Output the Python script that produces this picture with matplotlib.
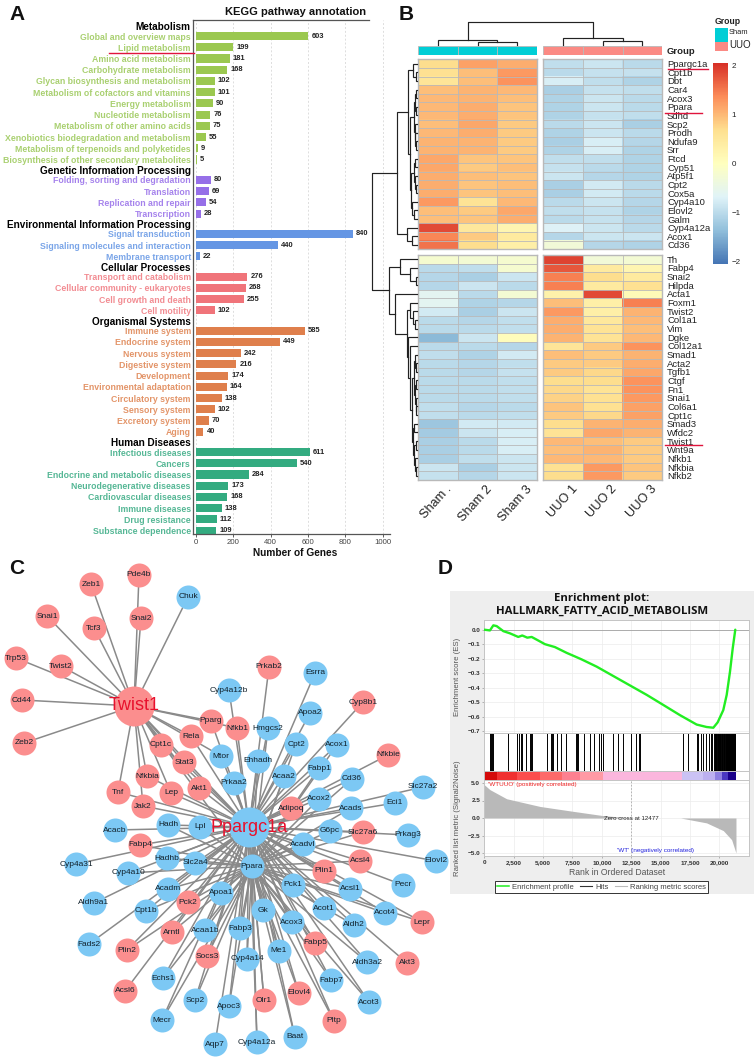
import numpy as np
from matplotlib import pyplot as plt
from matplotlib.colors import LinearSegmentedColormap, Normalize
from matplotlib.lines import Line2D

W, H = 755, 1060
plt.rcParams['font.family'] = ['Liberation Sans', 'DejaVu Sans']

# ---- panel A data
kegg_groups = ['Metabolism', 'Genetic Information Processing', 'Environmental Information Processing',
               'Cellular Processes', 'Organismal Systems', 'Human Diseases']
kegg_terms = [
    ['Global and overview maps', 'Lipid metabolism', 'Amino acid metabolism', 'Carbohydrate metabolism',
     'Glycan biosynthesis and metabolism', 'Metabolism of cofactors and vitamins', 'Energy metabolism',
     'Nucleotide metabolism', 'Metabolism of other amino acids', 'Xenobiotics biodegradation and metabolism',
     'Metabolism of terpenoids and polyketides', 'Biosynthesis of other secondary metabolites'],
    ['Folding, sorting and degradation', 'Translation', 'Replication and repair', 'Transcription'],
    ['Signal transduction', 'Signaling molecules and interaction', 'Membrane transport'],
    ['Transport and catabolism', 'Cellular community - eukaryotes', 'Cell growth and death', 'Cell motility'],
    ['Immune system', 'Endocrine system', 'Nervous system', 'Digestive system', 'Development',
     'Environmental adaptation', 'Circulatory system', 'Sensory system', 'Excretory system', 'Aging'],
    ['Infectious diseases', 'Cancers', 'Endocrine and metabolic diseases', 'Neurodegenerative diseases',
     'Cardiovascular diseases', 'Immune diseases', 'Drug resistance', 'Substance dependence'],
]
kegg_counts = [
    [603, 199, 181, 168, 102, 101, 90, 76, 75, 55, 9, 5],
    [80, 69, 54, 28],
    [840, 440, 22],
    [276, 268, 255, 102],
    [585, 449, 242, 216, 174, 164, 138, 102, 70, 40],
    [611, 540, 284, 173, 168, 138, 112, 109],
]
kegg_bar_colors = ['#9bc850', '#966fe8', '#6596e4', '#f0747a', '#df7f4c', '#33ab80']
kegg_text_colors = ['#a9d070', '#a582ec', '#7aa5e8', '#f28c92', '#e39468', '#55b795']
kegg_ticks = [0, 200, 400, 600, 800, 1000]

# ---- panel B data
samples = ['Sham .', 'Sham 2', 'Sham 3', 'UUO 1', 'UUO 2', 'UUO 3']
genes_top = ['Ppargc1a', 'Cpt1b', 'Dbt', 'Car4', 'Acox3', 'Ppara', 'Sdhd', 'Scp2', 'Prodh', 'Ndufa9', 'Srr',
             'Ftcd', 'Cyp51', 'Atp5f1', 'Cpt2', 'Cox5a', 'Cyp4a10', 'Elovl2', 'Galm', 'Cyp4a12a', 'Acox1', 'Cd36']
z_top = np.array([
    [.7, 1.2, 1.1, -.95, -.85, -1.0], [.65, .95, 1.25, -1.0, -.9, -.9], [.55, .95, 1.3, -.75, -.95, -1.1],
    [.95, 1.05, 1.0, -1.15, -.9, -.95], [1.0, 1.05, .95, -1.1, -.85, -1.0], [1.0, 1.1, .9, -1.1, -.85, -1.0],
    [1.0, 1.1, .9, -1.1, -.9, -.95], [.95, 1.15, .85, -1.0, -.85, -1.15], [1.0, 1.1, .85, -1.1, -.85, -1.0],
    [1.05, 1.05, .85, -1.15, -.75, -1.05], [1.05, 1.05, .85, -1.1, -.75, -1.1], [1.15, .9, .9, -.95, -.95, -1.1],
    [1.15, .85, .95, -.9, -1.0, -1.1], [1.1, .95, .9, -.85, -1.05, -1.1], [1.1, .9, .95, -1.15, -.8, -1.0],
    [1.1, .9, .95, -1.15, -.8, -1.0], [1.25, .6, 1.0, -1.0, -.85, -1.05], [.95, .85, 1.15, -.95, -.9, -1.1],
    [.95, .9, 1.1, -1.0, -.9, -1.05], [1.85, .5, .2, -.7, -.85, -1.0], [1.4, .85, .45, -1.05, -.85, -.85],
    [1.55, .7, .35, -.3, -1.05, -1.1]])
genes_bot = ['Th', 'Fabp4', 'Snai2', 'Hilpda', 'Acta1', 'Foxm1', 'Twist2', 'Col1a1', 'Vim', 'Dgke', 'Col12a1',
             'Smad1', 'Acta2', 'Tgfb1', 'Ctgf', 'Fn1', 'Snai1', 'Col6a1', 'Cpt1c', 'Smad3', 'Wfdc2', 'Twist1',
             'Wnt9a', 'Nfkb1', 'Nfkbia', 'Nfkb2']
z_bot = np.array([
    [-.2, -.25, -.2, 1.9, -.3, -.25], [-1.0, -.95, -.2, 1.75, .45, .2], [-1.05, -1.15, -.85, 1.45, .7, .45],
    [-1.05, -.85, -1.0, 1.45, .45, .65], [-.6, -1.0, -.25, .3, 1.85, .1], [-.6, -1.1, -1.05, .95, .35, 1.45],
    [-.8, -1.15, -.85, 1.25, .35, 1.05], [-1.0, -1.05, -.95, 1.1, .5, 1.0], [-1.0, -1.0, -.95, 1.1, .6, .95],
    [-1.4, -.85, .05, 1.05, .6, 1.0], [-1.0, -1.0, -1.05, .55, .85, 1.3], [-.95, -1.1, -.8, .95, .85, 1.05],
    [-1.0, -1.05, -.95, .85, .85, 1.1], [-1.0, -1.05, -.9, .85, .75, 1.15], [-1.0, -1.0, -.95, .7, .7, 1.3],
    [-1.0, -1.0, -.95, .75, .6, 1.3], [-1.0, -1.0, -.95, .8, .65, 1.25], [-.95, -1.05, -1.0, .9, .65, 1.2],
    [-.95, -1.0, -.95, .85, .75, 1.2], [-1.25, -.8, -.8, .7, 1.05, 1.1], [-1.2, -.85, -.75, .6, 1.15, 1.05],
    [-1.15, -1.0, -.75, 1.0, .95, .85], [-1.15, -1.0, -.75, .95, 1.05, .85], [-1.15, -.95, -.85, 1.0, 1.0, .85],
    [-.85, -1.15, -.85, .65, 1.25, .9], [-.9, -1.05, -.85, .7, 1.25, .85]])
heat_colors = ['#4575b4', '#91bfdb', '#e0f3f8', '#ffffbf', '#fee090', '#fc8d59', '#d73027']
group_colors = ['#00ced6', '#fb8a84']

# dendrograms: (merge height, left, right), an int is a leaf
tree_rows_top = (20, (8.7, (4, 0, (1.5, 1, 2)),
                      (7.5, (3, (2, (1.5, 3, 4), (1.5, 5, 6)), (2.5, 7, (2, 8, (1.5, 9, 10)))),
                       (6, (3, (2, 11, 12), (2, 13, (1.5, 14, 15))), (5, 16, (3.5, 17, 18))))),
                 (9.7, 19, (5.3, 20, 21)))
tree_rows_bot = (28, (17, 0, (7, 1, (1.3, 2, 3))),
                 (22, 4, (9.7, (7.5, 5, (4.5, 6, (2.5, 7, 8))),
                          (9, 9, (7, 10, (5, (3, (2, 11, (1.5, 12, 13)), (2, (1.5, 14, 15), (1.5, 16, (1, 17, 18)))),
                                          (4, (3, 19, 20), (3, (1.5, 21, 22), (2, 23, (1.5, 24, 25))))))))))
tree_cols = (22.5, (4.8, 0, (2.2, 1, 2)), (6.2, 3, (3.8, 4, 5)))

# ---- panel C data, nodes placed by hand the way the layout has them
node_names = ['Pde4b', 'Zeb1', 'Chuk', 'Snai1', 'Snai2', 'Tcf3', 'Trp53', 'Twist2', 'Cd44', 'Zeb2', 'Pparg', 'Rela',
              'Cpt1c', 'Stat3', 'Nfkbia', 'Tnf', 'Lep', 'Akt1', 'Jak2', 'Mtor', 'Prkab2', 'Esrra', 'Cyp4a12b', 'Cyp8b1',
              'Apoa2', 'Nfkb1', 'Hmgcs2', 'Cpt2', 'Acox1', 'Nfkbie', 'Ehhadh', 'Fabp1', 'Acaa2', 'Cd36', 'Slc27a2',
              'Prkaa2', 'Acox2', 'Eci1', 'Acads', 'Adipoq', 'Hadh', 'Lpl', 'Acacb', 'G6pc', 'Slc27a6', 'Prkag3', 'Acadvl',
              'Fabp4', 'Hadhb', 'Acsl4', 'Elovl2', 'Cyp4a31', 'Slc2a4', 'Plin1', 'Cyp4a10', 'Pecr', 'Pck1', 'Acadm',
              'Acsl1', 'Apoa1', 'Pck2', 'Aldh9a1', 'Acot1', 'Gk', 'Cpt1b', 'Acot4', 'Lepr', 'Acox3', 'Aldh2', 'Fabp3',
              'Acaa1b', 'Arntl', 'Fabp5', 'Fads2', 'Plin2', 'Me1', 'Socs3', 'Cyp4a14', 'Aldh3a2', 'Akt3', 'Echs1',
              'Fabp7', 'Acsl6', 'Elovl4', 'Scp2', 'Olr1', 'Acot3', 'Apoc3', 'Pltp', 'Mecr', 'Baat', 'Aqp7', 'Cyp4a12a',
              'Ppara', 'Twist1', 'Ppargc1a']
node_x = [139, 91, 188, 47, 141, 94, 16, 61, 22, 24, 211, 191, 161, 184, 147, 118, 171, 199, 143, 221, 269, 315, 229, 363,
          310, 237, 268, 296, 337, 388, 258, 319, 284, 352, 423, 234, 319, 395, 351, 291, 168, 200, 115, 330, 363, 408,
          303, 140, 167, 360, 436, 76, 195, 324, 128, 403, 293, 168, 350, 221, 188, 94, 324, 263, 146, 385, 422, 292,
          354, 240, 205, 172, 315, 89, 127, 279, 207, 247, 367, 407, 163, 331, 125, 299, 195, 264, 369, 229, 334, 162,
          295, 215, 257, 252, 134, 249]
node_y = [575, 584, 597, 616, 618, 628, 658, 666, 700, 743, 721, 736, 745, 762, 776, 792, 793, 788, 806, 756, 667, 673, 690,
          702, 713, 728, 728, 744, 745, 755, 761, 768, 776, 779, 787, 783, 799, 803, 808, 808, 825, 827, 830, 831, 832,
          835, 844, 845, 858, 861, 861, 864, 863, 871, 873, 885, 885, 889, 889, 893, 902, 903, 908, 910, 911, 913, 922,
          922, 925, 928, 930, 932, 943, 944, 950, 951, 956, 959, 962, 963, 978, 980, 991, 993, 1000, 1000, 1002, 1006,
          1021, 1020, 1037, 1044, 1042, 866, 706, 827]
red_nodes = ['Pde4b', 'Zeb1', 'Snai1', 'Snai2', 'Tcf3', 'Trp53', 'Twist2', 'Cd44', 'Zeb2', 'Pparg', 'Rela', 'Cpt1c', 'Stat3',
             'Nfkbia', 'Tnf', 'Lep', 'Akt1', 'Jak2', 'Prkab2', 'Cyp8b1', 'Nfkb1', 'Nfkbie', 'Adipoq', 'Slc27a6', 'Fabp4',
             'Acsl4', 'Plin1', 'Pck2', 'Lepr', 'Arntl', 'Fabp5', 'Plin2', 'Socs3', 'Akt3', 'Acsl6', 'Elovl4', 'Olr1', 'Pltp',
             'Twist1']
hub_nodes = ['Twist1', 'Ppargc1a']
twist_links = ['Zeb1', 'Pde4b', 'Chuk', 'Snai1', 'Snai2', 'Tcf3', 'Trp53', 'Twist2', 'Cd44', 'Zeb2', 'Tnf', 'Nfkbia', 'Lep',
               'Jak2', 'Cpt1c', 'Stat3', 'Akt1', 'Rela', 'Pparg', 'Nfkb1', 'Mtor', 'Ppargc1a', 'Ppara']
pgc_links = ['Cyp4a12b', 'Prkab2', 'Esrra', 'Apoa2', 'Hmgcs2', 'Cpt2', 'Acox1', 'Cyp8b1', 'Fabp1', 'Acaa2', 'Ehhadh', 'Prkaa2',
             'Nfkb1', 'Mtor', 'Pparg', 'Rela', 'Stat3', 'Akt1', 'Cpt1c', 'Lep', 'Jak2', 'Nfkbia', 'Tnf', 'Cd36', 'Nfkbie',
             'Acox2', 'Acads', 'Adipoq', 'G6pc', 'Eci1', 'Slc27a2', 'Slc27a6', 'Prkag3', 'Acadvl', 'Acsl4', 'Elovl2', 'Plin1',
             'Pecr', 'Acsl1', 'Acot1', 'Acot4', 'Lepr', 'Pck1', 'Aldh2', 'Akt3', 'Aldh3a2', 'Acot3', 'Fabp5', 'Fabp7', 'Pltp',
             'Elovl4', 'Me1', 'Baat', 'Gk', 'Olr1', 'Cyp4a12a', 'Cyp4a14', 'Aqp7', 'Apoc3', 'Fabp3', 'Acaa1b', 'Socs3', 'Scp2',
             'Mecr', 'Echs1', 'Acsl6', 'Arntl', 'Plin2', 'Pck2', 'Fads2', 'Cpt1b', 'Apoa1', 'Aldh9a1', 'Acadm', 'Cyp4a10',
             'Cyp4a31', 'Slc2a4', 'Hadhb', 'Fabp4', 'Lpl', 'Hadh', 'Acacb', 'Ppara', 'Acox3']
ppara_links = ['Hmgcs2', 'Cpt2', 'Acox1', 'Fabp1', 'Acaa2', 'Ehhadh', 'Cd36', 'Acox2', 'Acads', 'Adipoq', 'G6pc', 'Slc27a6',
               'Acadvl', 'Acsl4', 'Plin1', 'Acsl1', 'Acot1', 'Pck1', 'Aldh2', 'Aldh3a2', 'Fabp5', 'Fabp7', 'Acot3', 'Me1', 'Gk',
               'Cyp4a12a', 'Cyp4a14', 'Fabp3', 'Acaa1b', 'Socs3', 'Scp2', 'Mecr', 'Echs1', 'Arntl', 'Plin2', 'Pck2', 'Cpt1b',
               'Apoa1', 'Acadm', 'Cyp4a10', 'Slc2a4', 'Hadhb', 'Fabp4', 'Lpl', 'Hadh', 'Acox3', 'Apoc3', 'Acot4', 'Lepr',
               'Elovl4', 'Pltp', 'Baat', 'Olr1']

# ---- panel D data
es_rank = [0, 480, 770, 1050, 1620, 2180, 2890, 3230, 3660, 4030, 4600, 5160, 6010, 7010, 7720, 8280, 9560, 10980, 12400,
           13820, 15240, 16650, 18070, 18920, 19490, 19860, 20340, 20630, 20910, 21140, 21360]
es_score = [0, -.005, .03, .025, -.01, -.025, -.05, -.04, -.055, -.05, -.075, -.10, -.12, -.16, -.185, -.205, -.255, -.32,
            -.385, -.45, -.52, -.59, -.655, -.672, -.677, -.64, -.555, -.45, -.29, -.13, 0]
hit_ranks = [482, 567, 652, 766, 2043, 2809, 2979, 3121, 3234, 3546, 3887, 3972, 4085, 5305, 5674, 5787, 5873, 6213, 6497,
             6951, 7802, 7915, 8000, 8511, 8993, 9334, 9759, 9901, 10128, 10979, 11348, 11831, 12454, 12880, 13192, 13249,
             16937, 17362, 18072, 18214, 18412, 18639, 18838, 19093, 19292, 19405, 19547, 19600, 19640, 19680, 19730, 19760,
             19800, 19850, 19880, 19930, 19960, 20000, 20060, 20100, 20140, 20190, 20220, 20260, 20310, 20360, 20400, 20440,
             20480, 20530, 20570, 20610, 20650, 20690, 20740, 20780, 20820, 20860, 20900, 20950, 20990, 21030, 21070, 21110,
             21150, 21190, 21240, 21280, 21320, 21360]
strip_edges = [0, 1050, 2750, 4740, 6580, 8140, 10070, 16800, 18640, 19630, 20200, 20770, 21420]
strip_colors = ['#d40a0a', '#f03030', '#fb4d4d', '#fd6a6a', '#fd8090', '#ff9aa5', '#fbb6dd', '#cbc2f4', '#bcb0f0', '#8e80e0',
                '#4a38c0', '#1a008a']
metric_rank = [0, 480, 1900, 4740, 7570, 10070, 12400, 12477, 16710, 18920, 20340, 21050, 21420]
metric_value = [4.75, 4.05, 2.75, 1.65, .95, .35, .02, 0, 0, -.7, -1.8, -3.1, -5.0]
rank_ticks = [0, 2500, 5000, 7500, 10000, 12500, 15000, 17500, 20000]
metric_ticks = [-5.0, -2.5, 0.0, 2.5, 5.0]
es_ticks = [0.0, -.1, -.2, -.3, -.4, -.5, -.6, -.7]


def px_axes(left, top, right, bottom, **kw):
    return fig.add_axes([left / W, 1 - bottom / H, (right - left) / W, (bottom - top) / H], **kw)


def draw_tree(ax, node, leaf_pos, base, horizontal):
    if isinstance(node, int):
        return leaf_pos[node], 0
    h, a, b = node
    pa, ha = draw_tree(ax, a, leaf_pos, base, horizontal)
    pb, hb = draw_tree(ax, b, leaf_pos, base, horizontal)
    hs = [base - ha, base - h, base - h, base - hb]
    ps = [pa, pa, pb, pb]
    if horizontal:
        ax.plot(hs, ps, color='#222222', lw=0.85, solid_joinstyle='miter')
    else:
        ax.plot(ps, hs, color='#222222', lw=0.85, solid_joinstyle='miter')
    return (pa + pb) / 2, h


def heat_block(left, right, top, bottom, data, labels=None):
    ax = px_axes(left, top, right, bottom)
    img = ax.imshow(data, cmap=heat_cmap, norm=heat_norm, aspect='auto', interpolation='nearest',
                    extent=(0, data.shape[1], data.shape[0], 0))
    ax.hlines(np.arange(1, data.shape[0]), 0, data.shape[1], color='#b9b9b9', lw=0.6)
    ax.vlines(np.arange(1, data.shape[1]), 0, data.shape[0], color='#b9b9b9', lw=0.6)
    ax.set_xticks([])
    ax.set_yticks([])
    for s in ax.spines.values():
        s.set_color('#b9b9b9')
        s.set_linewidth(1.0)
    if labels is not None:
        ax.yaxis.tick_right()
        ax.set_yticks(np.arange(len(labels)) + 0.5, labels, fontsize=6.8, color='#222222')
        ax.tick_params(axis='y', length=0, pad=3.4)
    return img


fig = plt.figure(figsize=(W / 100, H / 100), dpi=100)
over = fig.add_axes([0, 0, 1, 1], zorder=10)
over.set_xlim(0, W)
over.set_ylim(H, 0)
over.axis('off')
over.patch.set_alpha(0)

# ---- A: KEGG bars
axa = px_axes(193, 20, 390, 534)
row_step = 11.23
pos = 0.0
tick_pos, tick_lab, tick_col = [], [], []
for g, name in enumerate(kegg_groups):
    tick_pos.append(pos - 0.9)
    tick_lab.append(name)
    tick_col.append('black')
    for term, count in zip(kegg_terms[g], kegg_counts[g]):
        axa.barh(pos, count, height=0.72, color=kegg_bar_colors[g])
        axa.text(count + 16, pos, str(count), va='center', ha='left', fontsize=5.4, fontweight='bold', color='#222222')
        tick_pos.append(pos)
        tick_lab.append(term)
        tick_col.append(kegg_text_colors[g])
        pos += 1
    pos += 0.81
axa.set_xlim(-16, 1040)
axa.set_ylim((534 - 36) / row_step, (20 - 36) / row_step)
axa.set_yticks(tick_pos, tick_lab)
axa.tick_params(axis='y', length=0, pad=1.6)
for lab, col in zip(axa.get_yticklabels(), tick_col):
    lab.set_color(col)
    lab.set_fontweight('bold')
    lab.set_fontsize(7.2 if col == 'black' else 6.35)
axa.set_xticks(kegg_ticks)
axa.tick_params(axis='x', labelsize=5.6, length=2, width=0.6, pad=1.5, colors='#444444')
axa.grid(axis='x', color='#dddddd', ls=(0, (2, 2)), lw=0.7)
axa.set_axisbelow(True)
axa.spines['right'].set_visible(False)
axa.spines['top'].set_bounds(-16, 926)
for s in ['left', 'bottom', 'top']:
    axa.spines[s].set_color('#555555')
    axa.spines[s].set_linewidth(0.9)
over.text(295, 553, 'Number of Genes', ha='center', va='center', fontsize=7.3, fontweight='bold', color='#111111')
over.text(296, 12, 'KEGG pathway annotation', ha='center', va='center', fontsize=8.0, fontweight='bold', color='#111111')
over.plot([109, 194], [52.7, 52.7], color='#e0143c', lw=1.0)

# ---- B: clustered heatmap
heat_cmap = LinearSegmentedColormap.from_list('heat', heat_colors)
heat_norm = Normalize(-2.05, 2.05)
top_t, top_b, bot_t, bot_b = 59.3, 249.3, 255, 480
lx0, lx1, rx0, rx1 = 417.7, 537.3, 543.3, 662.3
img = heat_block(lx0, lx1, top_t, top_b, z_top[:, :3])
heat_block(rx0, rx1, top_t, top_b, z_top[:, 3:], genes_top)
heat_block(lx0, lx1, bot_t, bot_b, z_bot[:, :3])
heat_block(rx0, rx1, bot_t, bot_b, z_bot[:, 3:], genes_bot)

col_centers = [lx0 + (lx1 - lx0) * (i + .5) / 3 for i in range(3)] + [rx0 + (rx1 - rx0) * (i + .5) / 3 for i in range(3)]
for i, (left, right) in enumerate([(lx0, lx1), (rx0, rx1)]):
    axg = px_axes(left, 46.3, right, 55.3)
    axg.bar([0, 1, 2], 1, width=1, color=group_colors[i], edgecolor='#b9b9b9', lw=0.6)
    axg.set_xlim(-.5, 2.5)
    axg.set_ylim(0, 1)
    axg.axis('off')
over.text(667, 51, 'Group', fontsize=6.8, fontweight='bold', va='center', color='#222222')
for x, name in zip(col_centers, samples):
    over.text(x + 8, 483, name, rotation=48, ha='right', va='top', rotation_mode='anchor', fontsize=9.2, color='#222222')

row_h_top = (top_b - top_t) / len(genes_top)
row_h_bot = (bot_b - bot_t) / len(genes_bot)
leaf_top = [top_t + row_h_top * (i + .5) for i in range(len(genes_top))]
leaf_bot = [bot_t + row_h_bot * (i + .5) for i in range(len(genes_bot))]
p1, h1 = draw_tree(over, tree_rows_top, leaf_top, 417, True)
p2, h2 = draw_tree(over, tree_rows_bot, leaf_bot, 417, True)
over.plot([417 - h1, 372, 372, 417 - h2], [p1, p1, p2, p2], color='#222222', lw=0.85)
pc1, hc1 = draw_tree(over, tree_cols[1], col_centers, 44.5, False)
pc2, hc2 = draw_tree(over, tree_cols[2], col_centers, 44.5, False)
over.plot([pc1, pc1, pc2, pc2], [44.5 - hc1, 44.5 - tree_cols[0], 44.5 - tree_cols[0], 44.5 - hc2], color='#222222', lw=0.85)
for x0, x1, y in [(668, 707.7, 68.7), (665, 702, 112.7), (665, 702, 445)]:
    over.plot([x0, x1], [y, y], color='#e0143c', lw=1.0)

over.text(715, 22, 'Group', fontsize=6.2, fontweight='bold', va='center', color='#222222')
axs1 = px_axes(715, 28.3, 727.7, 41.5)
axs1.set_facecolor(group_colors[0])
axs1.set_xticks([]); axs1.set_yticks([])
axs2 = px_axes(715, 41.5, 727.7, 51.3)
axs2.set_facecolor(group_colors[1])
axs2.set_xticks([]); axs2.set_yticks([])
for a_ in (axs1, axs2):
    for s in a_.spines.values():
        s.set_visible(False)
over.text(729, 32.5, 'Sham', fontsize=5.4, va='center', color='#222222')
over.text(729, 45, 'UUO', fontsize=7, va='center', color='#222222')

cax = px_axes(713.3, 63.3, 727.7, 264)
cb = fig.colorbar(img, cax=cax)
cb.set_ticks([2, 1, 0, -1, -2], labels=['2', '1', '0', '\u22121', '\u22122'])
cb.ax.tick_params(length=0, labelsize=5.8, pad=3, colors='#222222')
cb.outline.set_visible(False)

# ---- C: network
node_pos = {n: (x, y) for n, x, y in zip(node_names, node_x, node_y)}
for hub, links in [('Twist1', twist_links), ('Ppargc1a', pgc_links), ('Ppara', ppara_links)]:
    for other in links:
        over.plot([node_pos[hub][0], node_pos[other][0]], [node_pos[hub][1], node_pos[other][1]],
                  color='#8a8a8a', lw=1.1, zorder=2)
for n, x, y in zip(node_names, node_x, node_y):
    col = '#fb8e8e' if n in red_nodes else '#7cc8f4'
    big = n in hub_nodes
    over.scatter([x], [y], s=829 if big else 299, color=col, linewidths=0, zorder=3)
for n, x, y in zip(node_names, node_x, node_y):
    if n in hub_nodes:
        over.text(x, y, n, ha='center', va='center', fontsize=13, color='#e8112d', zorder=5)
    else:
        over.text(x, y, n, ha='center', va='center', fontsize=6, color='#10202a', zorder=5)

# ---- D: GSEA
axbg = px_axes(450, 591, 754, 894)
axbg.set_facecolor('#eeeeee')
axbg.set_xticks([]); axbg.set_yticks([])
for s in axbg.spines.values():
    s.set_visible(False)
rank_max = (749 - 484.3) / 0.01175
grid_c = '#ececec'
axes_c = '#c4c4c4'
small = dict(fontsize=4.6, fontweight='bold', color='#333333')

axes_d = px_axes(484.3, 620, 749, 733)
axes_d.plot(es_rank, es_score, color='#22ee22', lw=1.7, solid_capstyle='round', zorder=3)
axes_d.axhline(0, color='#a0a0a0', lw=0.6)
axes_d.set_xlim(0, rank_max)
axes_d.set_ylim((629.7 - 733) / 144.8, (629.7 - 620) / 144.8)
axes_d.set_xticks(rank_ticks, [])
axes_d.set_yticks(es_ticks, [f'{v:.1f}'.replace('-', '\u2212') for v in es_ticks], **small)
axes_d.set_ylabel('Enrichment score (ES)', fontsize=5.6, color='#555555', labelpad=2)
axes_d.yaxis.set_label_coords((461 - 484.3) / (749 - 484.3), 0.5)

axh = px_axes(484.3, 733, 749, 770.6)
axh.vlines(hit_ranks, 0, 1, color='black', lw=0.7)
axh.set_xlim(0, rank_max)
axh.set_ylim(0, 1)
axh.set_xticks([]); axh.set_yticks([])

axs = px_axes(484.3, 770.6, 749, 780)
for i, c in enumerate(strip_colors):
    axs.barh(0, strip_edges[i + 1] - strip_edges[i], left=strip_edges[i], height=1, color=c)
axs.set_xlim(0, rank_max)
axs.set_ylim(-.5, .5)
axs.set_xticks([]); axs.set_yticks([])

axm = px_axes(484.3, 780, 749, 856)
axm.fill_between(metric_rank, metric_value, 0, color='#b9b9b9', lw=0)
axm.axvline(12477, color='#aaaaaa', lw=0.6, ls=(0, (2, 2)))
axm.set_xlim(0, rank_max)
axm.set_ylim(-38 / 7, 38 / 7)
axm.set_xticks(rank_ticks, [f'{v:,}' for v in rank_ticks], **small)
axm.set_yticks(metric_ticks, [f'{v:.1f}'.replace('-', '\u2212') for v in metric_ticks], **small)
axm.set_xlabel('Rank in Ordered Dataset', fontsize=6.2, color='#555555', labelpad=2)
axm.set_ylabel('Ranked list metric (Signal2Noise)', fontsize=5.6, color='#555555')
axm.yaxis.set_label_coords((461 - 484.3) / (749 - 484.3), 0.5)
axm.text(300, 4.85, "'WTUUO' (positively correlated)", fontsize=4.6, color='#ee2222', va='center')
axm.text(12477, 0, 'Zero cross at 12477', fontsize=4.4, color='#222222', ha='center', va='center')
axm.text(11300, -4.6, "'WT' (negatively correlated)", fontsize=4.6, color='#2222dd', va='center')
for a_ in (axes_d, axh, axs, axm):
    a_.tick_params(length=1.5, width=0.5, pad=1.5, color='#999999')
    a_.grid(color=grid_c, lw=0.5)
    a_.set_axisbelow(True)
    for s in a_.spines.values():
        s.set_color(axes_c)
        s.set_linewidth(0.7)
axh.grid(False)
axs.grid(False)

title_font = dict(ha='center', va='center', fontsize=8.2, fontweight='bold', color='#111111', family='Open Sans')
over.text(602, 598, 'Enrichment plot:', **title_font)
over.text(602, 611, 'HALLMARK_FATTY_ACID_METABOLISM', **title_font)
leg_handles = [Line2D([], [], color='#22ee22', lw=1.1), Line2D([], [], color='#333333', lw=0.8),
               Line2D([], [], color='#bbbbbb', lw=0.8)]
leg = fig.legend(leg_handles, ['Enrichment profile', 'Hits', 'Ranking metric scores'], ncol=3,
                 loc='center', bbox_to_anchor=(601.5 / W, 1 - 887 / H), fontsize=5.5, frameon=True, fancybox=False,
                 framealpha=1, edgecolor='#333333', borderpad=0.25, handlelength=1.5, handletextpad=0.4, columnspacing=0.9,
                 labelcolor='#444444')
leg.get_frame().set_linewidth(0.7)
leg.set_zorder(11)

# ---- panel letters
for letter, x, y in [('A', 17, 14), ('B', 406, 14), ('C', 17, 569), ('D', 445, 569)]:
    over.text(x, y, letter, ha='center', va='center', fontsize=15, fontweight='bold', color='#111111')

fig.savefig('out.png', dpi=100)
